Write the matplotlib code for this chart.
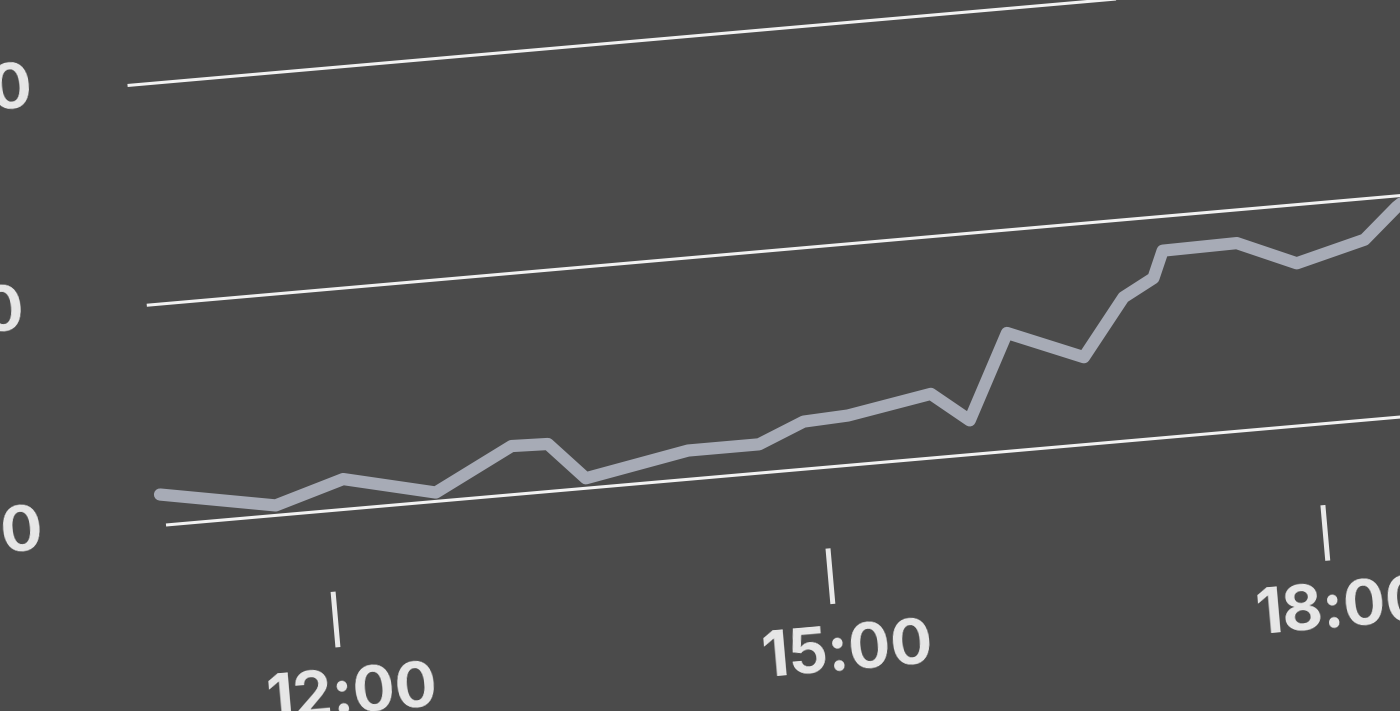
import matplotlib.pyplot as plt
from matplotlib.transforms import Affine2D

# readings of the line (hour of day, value)
hours = [11.01, 11.70, 12.12, 12.67, 13.15, 13.37, 13.58, 14.21, 14.64, 14.92,
         15.19, 15.70, 15.92, 16.19, 16.64, 16.91, 17.10, 17.17, 17.62, 17.97,
         18.39, 18.60, 18.85]
values = [62.8, 60.9, 62.75, 60.8, 64.4, 64.3, 60.9, 62.6, 62.6, 64.3,
          64.5, 65.8, 63.1, 70.7, 67.9, 73.0, 74.5, 76.9, 77.0, 74.7,
          76.3, 79.0, 81.5]

y_ticks = [60, 80, 100]
y_labels = ["60", "80", "100"]
x_ticks = [12, 15, 18]
x_labels = ["12:00", "15:00", "18:00"]

bg = "#4b4b4b"
line_col = "#a7abb6"
text_col = "#e8e8e8"

fig = plt.figure(figsize=(14, 7.11), dpi=100)
fig.patch.set_facecolor(bg)
ax = fig.add_axes([0, 0, 1, 1])
ax.set_facecolor(bg)
ax.set_xlim(0, 1400)
ax.set_ylim(0, 711)
ax.axis("off")

# the chart is drawn tilted by 5 degrees
x0, y0 = 11.03, 60
px_hour, px_unit = 165.6, 11.03
tilt = Affine2D().translate(-x0, -y0).scale(px_hour, px_unit).rotate_deg(5).translate(166, 186)
tf = tilt + ax.transData

for v in y_ticks:
    ax.plot([x0, 21], [v, v], transform=tf, color="#f2f2f2", lw=2.2, solid_capstyle="butt")

ax.plot(hours, values, transform=tf, color=line_col, lw=8.8,
        solid_capstyle="round", solid_joinstyle="round")

font = dict(fontsize=45, fontweight="bold", family="Inter", color=text_col)

for h, lab in zip(x_ticks, x_labels):
    ax.plot([h, h], [y0 - 7.35, y0 - 12.4], transform=tf, color=text_col, lw=3.6,
            solid_capstyle="butt")
    ax.text(h + 0.06, y0 - 17.0, lab, transform=tf, rotation=5, rotation_mode="anchor",
            ha="center", va="center", **font)

for v, lab in zip(y_ticks, y_labels):
    ax.text(x0 - 206 / px_hour, v + 0.3, lab, transform=tf, rotation=5, rotation_mode="anchor",
            ha="left", va="center", **font)

fig.savefig("out.png", dpi=100, facecolor=bg)
